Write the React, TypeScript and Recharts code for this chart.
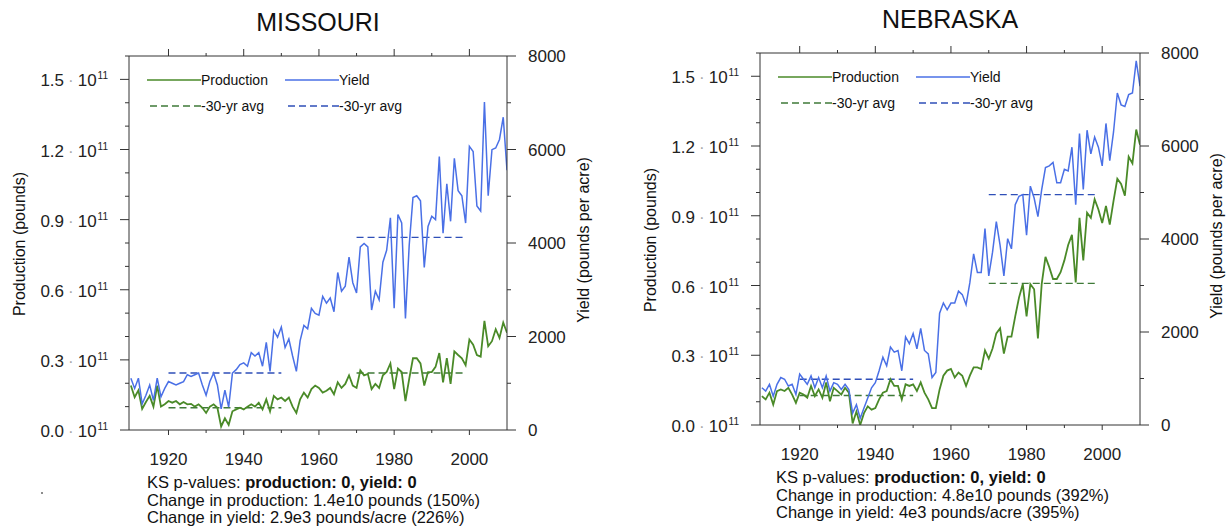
import { ComposedChart, Line, XAxis, YAxis, ReferenceLine } from 'recharts'

const FONT = '"Liberation Sans", Arial, Helvetica, sans-serif'

const years = Array.from({ length: 101 }, (_, i) => 1910 + i)

// production in units of 10^11 pounds
const moProduction = [
  0.19, 0.14, 0.17, 0.09, 0.12, 0.146, 0.1, 0.19, 0.1, 0.11,
  0.124, 0.117, 0.124, 0.11, 0.12, 0.11, 0.112, 0.1, 0.11, 0.095,
  0.073, 0.1, 0.11, 0.095, 0.015, 0.05, 0.022, 0.08, 0.088, 0.095,
  0.088, 0.1, 0.11, 0.1, 0.117, 0.088, 0.131, 0.08, 0.146, 0.131,
  0.139, 0.124, 0.139, 0.1, 0.073, 0.131, 0.16, 0.139, 0.175, 0.19,
  0.18, 0.16, 0.168, 0.18, 0.153, 0.204, 0.18, 0.197, 0.234, 0.19,
  0.18, 0.255, 0.234, 0.24, 0.175, 0.197, 0.18, 0.234, 0.248, 0.285,
  0.175, 0.263, 0.248, 0.124, 0.219, 0.307, 0.307, 0.285, 0.19, 0.248,
  0.248, 0.27, 0.329, 0.204, 0.307, 0.197, 0.336, 0.321, 0.307, 0.277,
  0.387, 0.365, 0.321, 0.314, 0.467, 0.358, 0.38, 0.431, 0.394, 0.46, 0.416,
]

// yield in pounds per acre
const moYield = [
  1109, 890, 1109, 560, 744, 963, 635, 1109, 708, 890,
  1036, 1000, 963, 1000, 1036, 1182, 1145, 1182, 1218, 963,
  744, 1036, 1218, 963, 452, 853, 489, 1218, 1291, 1400,
  1437, 1364, 1656, 1583, 1656, 1364, 1875, 1255, 2130, 1984,
  2203, 1765, 1947, 1583, 1255, 1911, 2239, 2166, 2604, 2495,
  2458, 2859, 2713, 2823, 2531, 3370, 2969, 3078, 3698, 3151,
  2932, 3917, 3990, 3917, 2567, 2969, 2786, 3589, 3844, 4537,
  2604, 4610, 4427, 2385, 3954, 4974, 5011, 4901, 3479, 4354,
  4573, 4500, 5850, 4208, 5266, 4464, 5813, 5120, 5011, 4427,
  6068, 5958, 4792, 4683, 7017, 5011, 5996, 6032, 6214, 6690, 5558,
]

const neProduction = [
  0.124, 0.11, 0.139, 0.088, 0.146, 0.153, 0.146, 0.16, 0.131, 0.095,
  0.139, 0.131, 0.117, 0.168, 0.124, 0.153, 0.117, 0.183, 0.102, 0.16,
  0.146, 0.131, 0.16, 0.139, 0.007, 0.058, 0.0, 0.051, 0.08, 0.066,
  0.073, 0.11, 0.139, 0.146, 0.197, 0.168, 0.168, 0.11, 0.175, 0.168,
  0.175, 0.146, 0.183, 0.139, 0.11, 0.073, 0.073, 0.153, 0.212, 0.234,
  0.241, 0.204, 0.226, 0.212, 0.168, 0.212, 0.248, 0.248, 0.241, 0.321,
  0.285, 0.329, 0.394, 0.416, 0.307, 0.38, 0.38, 0.467, 0.548, 0.606,
  0.467, 0.606, 0.584, 0.372, 0.606, 0.723, 0.679, 0.628, 0.628, 0.657,
  0.708, 0.774, 0.818, 0.613, 0.891, 0.708, 0.913, 0.891, 0.971, 0.927,
  0.869, 0.942, 0.862, 0.964, 1.059, 1.037, 0.986, 1.154, 1.125, 1.271, 1.205,
]

const neYield = [
  801, 729, 874, 619, 874, 1020, 984, 838, 874, 656,
  1093, 984, 874, 1056, 801, 1020, 801, 1056, 729, 911,
  874, 765, 874, 765, 255, 437, 146, 364, 583, 801,
  911, 1166, 1457, 1275, 1676, 1566, 1603, 1166, 1894, 1749,
  1967, 1639, 2077, 1603, 1530, 1020, 1129, 2404, 2623, 2477,
  2623, 2623, 2878, 2805, 2587, 3060, 3679, 3279, 3279, 4226,
  3206, 3716, 4372, 3862, 3206, 4007, 3789, 4736, 4918, 4954,
  4080, 5137, 4882, 4481, 5064, 5537, 5574, 5647, 5209, 5209,
  5501, 5464, 5974, 4736, 6266, 5064, 6339, 5829, 6193, 5974,
  5574, 6485, 5683, 6302, 7140, 6885, 6849, 7104, 7140, 7832, 7286,
]

// 30-year averages: [1920-1949, 1970-1999]
const avgPeriods = [
  [1920, 1950],
  [1970, 1999],
]
const moAvgProduction = [0.095, 0.244]
const moAvgYield = [1218, 4120]
const neAvgProduction = [0.127, 0.609]
const neAvgYield = [984, 4954]

const prodTicks = [0, 0.1, 0.2, 0.3, 0.4, 0.5, 0.6, 0.7, 0.8, 0.9, 1.0, 1.1, 1.2, 1.3, 1.4, 1.5, 1.6]
const yieldTicks = [0, 1000, 2000, 3000, 4000, 5000, 6000, 7000, 8000]
const yearTicks = [1920, 1930, 1940, 1950, 1960, 1970, 1980, 1990, 2000]

const GREEN = '#4a8a28'
const BLUE = '#4a70e6'
const GREEN_DASH = '#3f7a38'
const BLUE_DASH = '#2f4fb8'
const AXIS = '#333'

const LW = 100
const RW = 80
const XH = 40
const TH = 10

const LeftTick = (p: any) => {
  const { x, y, payload } = p
  const k = Math.round(payload.value * 10)
  const major = k % 3 === 0 && k <= 15
  return (
    <g>
      <line x1={x - (major ? 9 : 4)} x2={x} y1={y} y2={y} stroke={AXIS} />
      {major && (
        <text x={x - 21} y={y + 7} textAnchor="end" fontSize={17} fill="#222" fontFamily={FONT}>
          {(k / 10).toFixed(1)}
          <tspan dx={4} fill="#aaa">·</tspan>
          <tspan dx={4}>10</tspan>
          <tspan dx={1} dy={-7} fontSize={10}>11</tspan>
        </text>
      )}
    </g>
  )
}

const RightTick = (p: any) => {
  const { x, y, payload } = p
  const major = payload.value % 2000 === 0
  return (
    <g>
      <line x1={x} x2={x + (major ? 9 : 4)} y1={y} y2={y} stroke={AXIS} />
      {major && (
        <text x={x + 21} y={y + 6} textAnchor="start" fontSize={17} fill="#222" fontFamily={FONT}>
          {payload.value}
        </text>
      )}
    </g>
  )
}

const BottomTick = (p: any) => {
  const { x, y, payload } = p
  const major = payload.value % 20 === 0
  return (
    <g>
      <line x1={x} x2={x} y1={y} y2={y + (major ? 5 : 3)} stroke={AXIS} />
      {major && (
        <text x={x} y={y + 35} textAnchor="middle" fontSize={17} fill="#222" fontFamily={FONT}>
          {payload.value}
        </text>
      )}
    </g>
  )
}

const TopTick = (p: any) => {
  const { x, y, payload } = p
  const major = payload.value % 20 === 0
  return <line x1={x} x2={x} y1={y} y2={y - (major ? 7 : 3)} stroke={AXIS} />
}

type PanelProps = {
  title: string
  chartX: number
  chartW: number
  plot: { left: number; right: number; top: number; bottom: number }
  production: number[]
  yields: number[]
  avgProduction: number[]
  avgYield: number[]
  changeProd: string
  changeYield: string
  textDx: number
  textDy: number
}

function Panel({ title, chartX, chartW, plot, production, yields, avgProduction, avgYield, changeProd, changeYield, textDx, textDy }: PanelProps) {
  const data = years.map((year, i) => ({ year, prod: production[i], yld: yields[i] }))
  const margin = {
    left: plot.left - chartX - LW,
    right: chartX + chartW - plot.right - RW,
    top: plot.top - TH,
    bottom: 531 - plot.bottom - XH,
  }
  const cx = (plot.left + plot.right) / 2
  const legendX = plot.left + 18
  const legendRow = (y: number, items: { color: string; dash?: boolean; label: string; dx: number }[]) =>
    items.map((it, i) => (
      <div key={i} style={{ position: 'absolute', left: legendX + it.dx, top: y - 9, height: 18, display: 'flex', alignItems: 'center', whiteSpace: 'nowrap' }}>
        <svg width={54} height={6} style={{ display: 'block' }}>
          <line x1={54} x2={0} y1={3} y2={3} stroke={it.color} strokeWidth={1.4} strokeDasharray={it.dash ? '7 4' : undefined} />
        </svg>
        <span style={{ fontSize: 14, color: '#111' }}>{it.label}</span>
      </div>
    ))

  return (
    <>
      <div style={{ position: 'absolute', left: cx, top: plot.top - 34, transform: 'translate(-50%, -50%)', fontSize: 25, color: '#111', whiteSpace: 'nowrap' }}>
        {title}
      </div>
      <div style={{ position: 'absolute', left: chartX, top: 0, width: chartW, height: 531 }}>
        <ComposedChart width={chartW} height={531} data={data} margin={margin}>
          <XAxis
            xAxisId="x"
            dataKey="year"
            type="number"
            domain={[1909.5, 2010]}
            allowDataOverflow
            ticks={yearTicks}
            interval={0}
            height={XH}
            tickSize={0}
            tickMargin={0}
            tickLine={false}
            axisLine={{ stroke: AXIS }}
            tick={(p: any) => <BottomTick {...p} />}
          />
          <XAxis
            xAxisId="top"
            orientation="top"
            dataKey="year"
            type="number"
            domain={[1909.5, 2010]}
            allowDataOverflow
            ticks={yearTicks}
            interval={0}
            height={TH}
            tickSize={0}
            tickMargin={0}
            tickLine={false}
            axisLine={{ stroke: AXIS }}
            tick={(p: any) => <TopTick {...p} />}
          />
          <YAxis
            yAxisId="left"
            type="number"
            domain={[0, 1.6]}
            allowDataOverflow
            ticks={prodTicks}
            interval={0}
            width={LW}
            tickSize={0}
            tickMargin={0}
            tickLine={false}
            axisLine={{ stroke: AXIS }}
            tick={(p: any) => <LeftTick {...p} />}
          />
          <YAxis
            yAxisId="right"
            orientation="right"
            type="number"
            domain={[0, 8000]}
            allowDataOverflow
            ticks={yieldTicks}
            interval={0}
            width={RW}
            tickSize={0}
            tickMargin={0}
            tickLine={false}
            axisLine={{ stroke: AXIS }}
            tick={(p: any) => <RightTick {...p} />}
          />
          {avgPeriods.map((span, i) => (
            <ReferenceLine
              key={'ap' + i}
              xAxisId="x"
              yAxisId="left"
              segment={[{ x: span[0], y: avgProduction[i] }, { x: span[1], y: avgProduction[i] }]}
              stroke={GREEN_DASH}
              strokeWidth={1.4}
              strokeDasharray="7 4"
            />
          ))}
          {avgPeriods.map((span, i) => (
            <ReferenceLine
              key={'ay' + i}
              xAxisId="x"
              yAxisId="right"
              segment={[{ x: span[0], y: avgYield[i] }, { x: span[1], y: avgYield[i] }]}
              stroke={BLUE_DASH}
              strokeWidth={1.4}
              strokeDasharray="7 4"
            />
          ))}
          <Line xAxisId="x" yAxisId="left" type="linear" dataKey="prod" stroke={GREEN} strokeWidth={1.8} dot={false} isAnimationActive={false} />
          <Line xAxisId="x" yAxisId="right" type="linear" dataKey="yld" stroke={BLUE} strokeWidth={1.5} dot={false} isAnimationActive={false} />
        </ComposedChart>
      </div>
      <div style={{ position: 'absolute', left: plot.left - 109, top: (plot.top + plot.bottom) / 2 + 1, transform: 'translate(-50%, -50%) rotate(-90deg)', fontSize: 16, color: '#111', whiteSpace: 'nowrap' }}>
        Production (pounds)
      </div>
      <div style={{ position: 'absolute', left: plot.right + 77, top: (plot.top + plot.bottom) / 2 - 3, transform: 'translate(-50%, -50%) rotate(-90deg)', fontSize: 16, color: '#111', whiteSpace: 'nowrap' }}>
        Yield (pounds per acre)
      </div>
      {legendRow(plot.top + 24, [
        { color: GREEN, label: 'Production', dx: 0 },
        { color: BLUE, label: 'Yield', dx: 138 },
      ])}
      {legendRow(plot.top + 50, [
        { color: GREEN_DASH, dash: true, label: '-30-yr avg', dx: 0 },
        { color: BLUE_DASH, dash: true, label: '-30-yr avg', dx: 138 },
      ])}
      <div style={{ position: 'absolute', left: plot.left + textDx, top: plot.bottom + textDy, fontSize: 16.5, lineHeight: '17.5px', color: '#111', whiteSpace: 'nowrap' }}>
        <div>
          KS p-values: <b>production: 0, yield: 0</b>
        </div>
        <div>{changeProd}</div>
        <div>{changeYield}</div>
      </div>
    </>
  )
}

export default function App() {
  return (
    <div style={{ position: 'absolute', left: 0, top: 0, width: 1227, height: 531, background: '#fff', fontFamily: FONT, overflow: 'hidden' }}>
      <Panel
        title="MISSOURI"
        chartX={0}
        chartW={614}
        plot={{ left: 129, right: 507, top: 56, bottom: 430 }}
        production={moProduction}
        yields={moYield}
        avgProduction={moAvgProduction}
        avgYield={moAvgYield}
        changeProd="Change in production: 1.4e10 pounds (150%)"
        changeYield="Change in yield: 2.9e3 pounds/acre (226%)"
        textDx={18}
        textDy={44}
      />
      <Panel
        title="NEBRASKA"
        chartX={614}
        chartW={613}
        plot={{ left: 760, right: 1140, top: 53, bottom: 425 }}
        production={neProduction}
        yields={neYield}
        avgProduction={neAvgProduction}
        avgYield={neAvgYield}
        changeProd="Change in production: 4.8e10 pounds (392%)"
        changeYield="Change in yield: 4e3 pounds/acre (395%)"
        textDx={16}
        textDy={44}
      />
      <div style={{ position: 'absolute', left: 41, top: 492, width: 2, height: 2, background: '#666', borderRadius: 1 }} />
    </div>
  )
}
